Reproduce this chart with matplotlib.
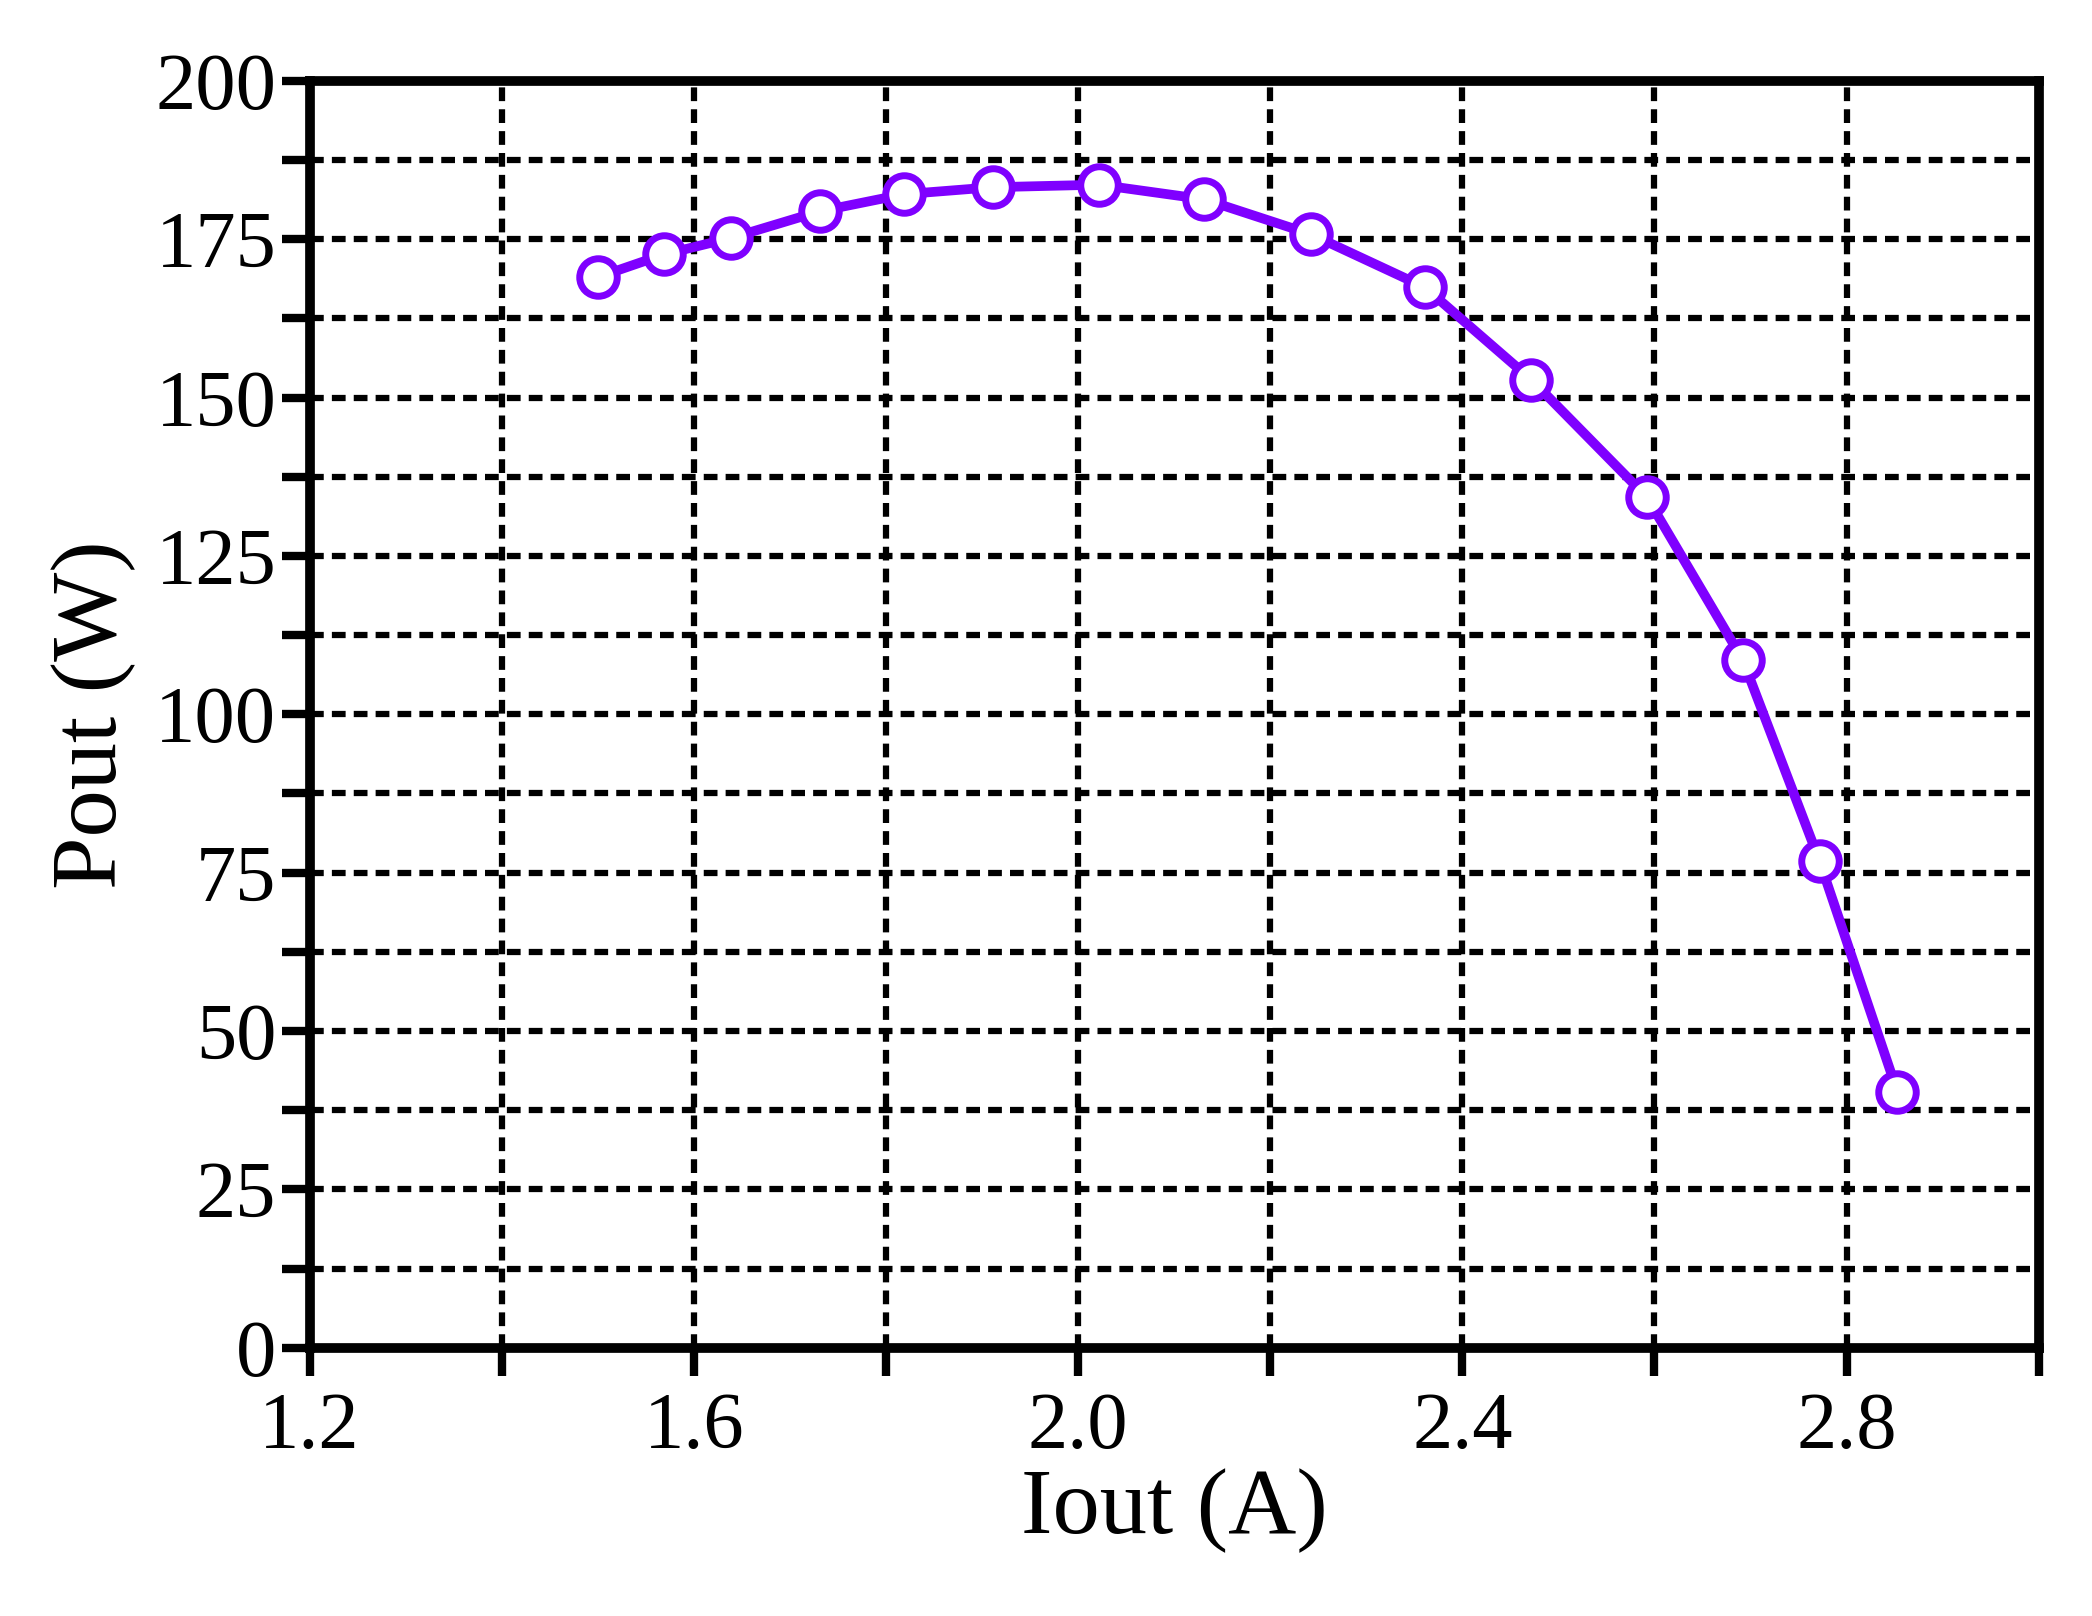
import numpy as np
import matplotlib.pyplot as plt
from matplotlib.ticker import MultipleLocator

iout = [1.500, 1.569, 1.639, 1.731, 1.819, 1.911, 2.022, 2.131, 2.242, 2.361,
        2.472, 2.592, 2.692, 2.772, 2.853]
pout = [169.0, 172.6, 175.2, 179.4, 182.1, 183.2, 183.6, 181.3, 175.8, 167.4,
        152.8, 134.3, 108.6, 76.8, 40.4]

plt.rcParams['font.family'] = ['Liberation Serif', 'DejaVu Serif']

fig = plt.figure(figsize=(20.92, 16.16), dpi=100)
ax = fig.add_axes([0.148, 0.166, 0.8265, 0.784])

ax.plot(iout, pout, '-o', color='#7f00ff', lw=7, ms=27, mfc='white',
        mec='#7f00ff', mew=5, zorder=3)

ax.set_xlim(1.2, 3.0)
ax.set_ylim(0, 200)
ax.xaxis.set_minor_locator(MultipleLocator(0.2))
ax.yaxis.set_major_locator(MultipleLocator(25))
ax.yaxis.set_minor_locator(MultipleLocator(12.5))
ax.set_xticks([1.2, 1.6, 2.0, 2.4, 2.8])
ax.set_xticklabels(['1.2', '1.6', '2.0', '2.4', '2.8'])
ax.grid(True, which='both', color='black', ls=(0, (2.2, 1.3)), lw=4.5)

for s in ax.spines.values():
    s.set_linewidth(7)
ax.tick_params(which='both', direction='out', width=6, length=20, labelsize=58)
ax.tick_params(axis='x', pad=12)
ax.tick_params(axis='y', pad=4)

ax.set_xlabel('Iout (A)', fontsize=68, labelpad=2)
ax.set_ylabel('Pout (W)', fontsize=68, labelpad=14)

fig.savefig('out.png', dpi=100)
